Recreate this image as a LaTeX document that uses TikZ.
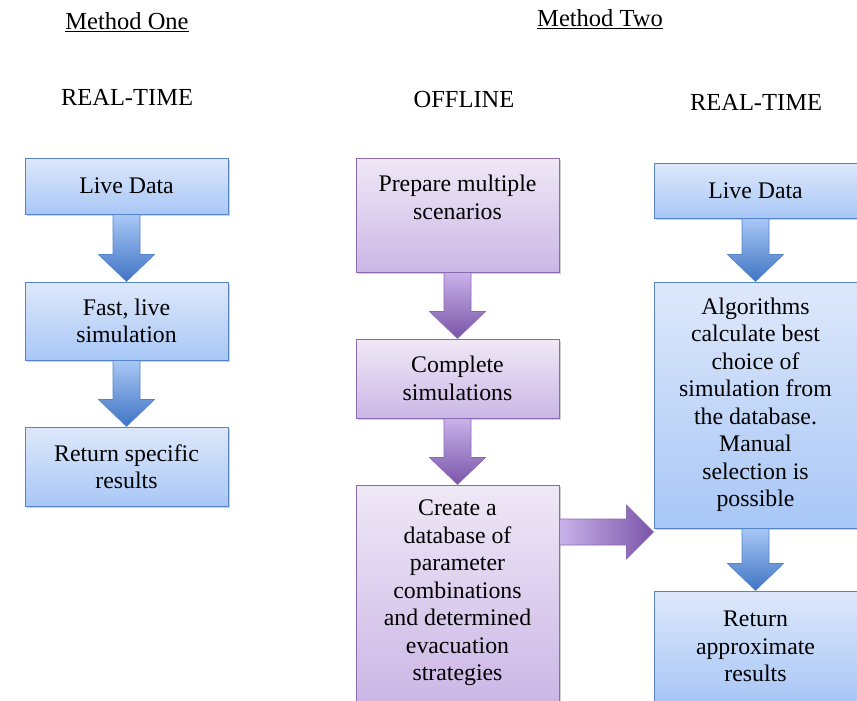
\documentclass[tikz,border=0pt]{standalone}
\usepackage{fontspec}
\setmainfont{Liberation Serif}
\usetikzlibrary{positioning, calc, shadows}

\definecolor{blueline}{HTML}{5584C8}
\definecolor{bluetop}{HTML}{DEE8FB}
\definecolor{bluebot}{HTML}{A8C7F6}
\definecolor{blueatop}{HTML}{A9C8F5}
\definecolor{blueabot}{HTML}{3F74C4}
\definecolor{purpline}{HTML}{8B6BB0}
\definecolor{purptop}{HTML}{EFE8F6}
\definecolor{purpbot}{HTML}{CBB7E6}
\definecolor{purpatop}{HTML}{C9B2EA}
\definecolor{purpabot}{HTML}{7A55A8}

\newcommand{\boxfont}{\fontsize{23.8}{27.5}\selectfont}
\newcommand{\headfont}{\fontsize{24.5}{28}\selectfont}

% block arrow pointing down, from one box to the next
\newcommand{\downblock}[3]{%
  \path[#3] let \p1=(#1.south), \p2=(#2.north) in
    (\x1-13.5pt,\y1) -- (\x1+13.5pt,\y1) -- (\x1+13.5pt,\y2+27pt) -- (\x1+28pt,\y2+27pt)
    -- (\x1,\y2) -- (\x1-28pt,\y2+27pt) -- (\x1-13.5pt,\y2+27pt) -- cycle;
}
% block arrow pointing right
\newcommand{\rightblock}[3]{%
  \path[#3] let \p1=(#1), \p2=(#2.west) in
    (\x1,\y1+13pt) -- (\x2-27pt,\y1+13pt) -- (\x2-27pt,\y1+27pt) -- (\x2,\y1)
    -- (\x2-27pt,\y1-27pt) -- (\x2-27pt,\y1-13pt) -- (\x1,\y1-13pt) -- cycle;
}

\tikzset{
  box/.style={line width=1pt, minimum width=203pt, align=center, inner sep=2pt, font=\boxfont,
    drop shadow={shadow xshift=1.5pt, shadow yshift=-2pt, opacity=0.3, fill=black!60}},
  bluebox/.style={box, draw=blueline, top color=bluetop, bottom color=bluebot},
  purpbox/.style={box, draw=purpline, top color=purptop, bottom color=purpbot},
  bluearrow/.style={draw=blueline, line width=0.6pt, top color=blueatop, bottom color=blueabot},
  purparrow/.style={draw=purpline, line width=0.6pt, top color=purpatop, bottom color=purpabot},
  purpside/.style={draw=purpline, line width=0.6pt, left color=purpatop, right color=purpabot},
  head/.style={font=\headfont, inner sep=0pt}
}

\begin{document}
\begin{tikzpicture}[x=1pt, y=-1pt]
    \useasboundingbox (0,0) rectangle (857,701);

    \node[head] (m1) at (127,22) {\underline{Method One}};
    \node[head] (m2) at (600,19) {\underline{Method Two}};
    \node[head] (rt1) at (127,97) {REAL-TIME};
    \node[head] (off) at (464,100) {OFFLINE};
    \node[head] (rt2) at (756,102) {REAL-TIME};

    % method one
    \node[bluebox, minimum height=56pt] (live1) at (126.5,186) {Live Data};
    \node[bluebox, minimum height=78pt, below=67pt of live1] (fast) {Fast, live\\simulation};
    \node[bluebox, minimum height=79pt, below=66pt of fast] (specific) {Return specific\\results};

    % method two, offline
    \node[purpbox, minimum height=114pt] (prepare) at (457.5,215) {Prepare multiple\\scenarios\\\strut};
    \node[purpbox, minimum height=79pt, below=66pt of prepare] (complete) {Complete\\simulations};
    \node[purpbox, minimum height=216pt, below=66pt of complete] (database) {Create a\\database of\\parameter\\combinations\\and determined\\evacuation\\strategies};

    % method two, real-time
    \node[bluebox, minimum height=55pt] (live2) at (755.5,190.5) {Live Data};
    \node[bluebox, minimum height=246pt, below=63pt of live2] (algo) {Algorithms\\calculate best\\choice of\\simulation from\\the database.\\Manual\\selection is\\possible};
    \node[bluebox, minimum height=111pt, below=62pt of algo] (approx) {Return\\approximate\\results};

    \downblock{live1}{fast}{bluearrow}
    \downblock{fast}{specific}{bluearrow}
    \downblock{prepare}{complete}{purparrow}
    \downblock{complete}{database}{purparrow}
    \downblock{live2}{algo}{bluearrow}
    \downblock{algo}{approx}{bluearrow}

    \coordinate (dbout) at ([yshift=61pt]database.east);
    \rightblock{dbout}{algo}{purpside}
\end{tikzpicture}
\end{document}
